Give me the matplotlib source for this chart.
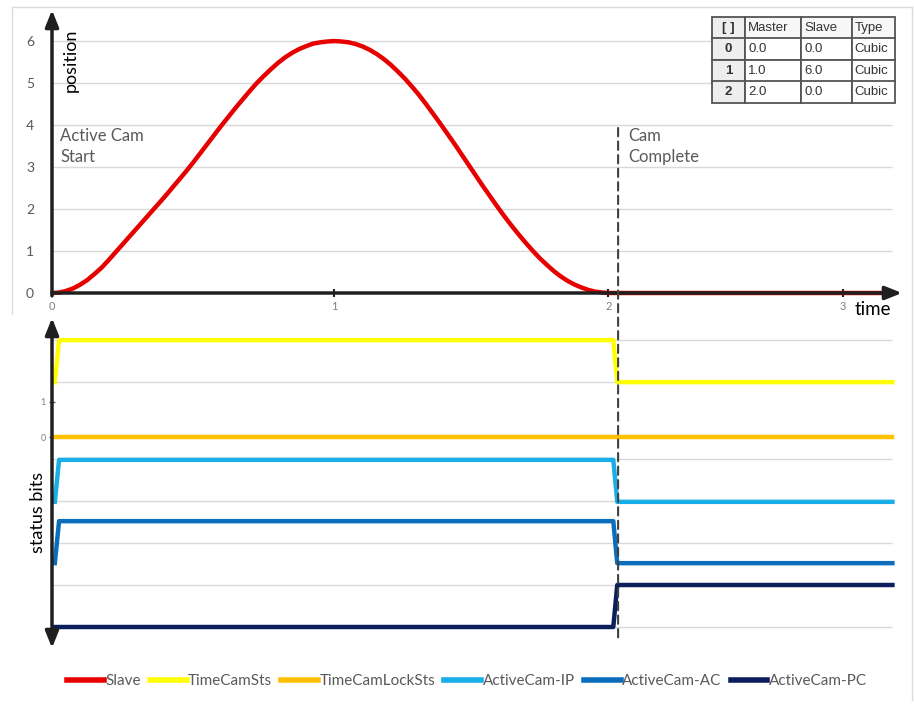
import matplotlib
matplotlib.use("Agg")
import matplotlib.pyplot as plt
from matplotlib.lines import Line2D
from matplotlib.patches import ConnectionPatch

plt.rcParams['font.family'] = ['Lato', 'DejaVu Sans']

# Cam profile: master time -> slave position
time = [0.000, 0.025, 0.050, 0.075, 0.100, 0.125, 0.150, 0.175, 0.200, 0.225,
        0.250, 0.275, 0.300, 0.325, 0.350, 0.375, 0.400, 0.425, 0.450, 0.475,
        0.500, 0.525, 0.550, 0.575, 0.600, 0.625, 0.650, 0.675, 0.700, 0.725,
        0.750, 0.775, 0.800, 0.825, 0.850, 0.875, 0.900, 0.925, 0.950, 0.975,
        1.000, 1.025, 1.050, 1.075, 1.100, 1.125, 1.150, 1.175, 1.200, 1.225,
        1.250, 1.275, 1.300, 1.325, 1.350, 1.375, 1.400, 1.425, 1.450, 1.475,
        1.500, 1.525, 1.550, 1.575, 1.600, 1.625, 1.650, 1.675, 1.700, 1.725,
        1.750, 1.775, 1.800, 1.825, 1.850, 1.875, 1.900, 1.925, 1.950, 1.975,
        2.000, 2.975]
slave = [0.00, 0.01, 0.05, 0.11, 0.20, 0.31, 0.45, 0.60, 0.78, 0.97,
         1.16, 1.35, 1.54, 1.73, 1.92, 2.11, 2.30, 2.50, 2.70, 2.90,
         3.11, 3.33, 3.55, 3.77, 3.99, 4.20, 4.41, 4.61, 4.81, 5.00,
         5.17, 5.33, 5.48, 5.61, 5.72, 5.81, 5.88, 5.94, 5.97, 5.99,
         6.00, 5.99, 5.97, 5.93, 5.87, 5.79, 5.69, 5.57, 5.43, 5.27,
         5.10, 4.91, 4.71, 4.49, 4.26, 4.03, 3.79, 3.55, 3.30, 3.05,
         2.80, 2.55, 2.31, 2.07, 1.84, 1.62, 1.41, 1.21, 1.02, 0.84,
         0.68, 0.53, 0.40, 0.29, 0.20, 0.13, 0.07, 0.03, 0.01, 0.00,
         0.00, 0.00]

# Status bits at the switching instants
bit_time = [0.01, 0.025, 1.987, 2.001, 2.975]
time_cam_sts = [0, 1, 1, 0, 0]
time_cam_lock_sts = [0, 0, 0, 0, 0]
active_cam_ip = [0, 1, 1, 0, 0]
active_cam_ac = [0, 1, 1, 0, 0]
active_cam_pc = [0, 0, 0, 1, 1]

# Cam table
table_cols = ['[ ]', 'Master', 'Slave', 'Type']
table_index = ['0', '1', '2']
table_master = ['0.0', '1.0', '2.0']
table_slave = ['0.0', '6.0', '0.0']
table_type = ['Cubic', 'Cubic', 'Cubic']

pos_ticks = [0, 1, 2, 3, 4, 5, 6]
time_tick_pos = [0, 1, 1.97, 2.8]
time_tick_labels = ['0', '1', '2', '3']
cam_complete = 2.004

# where each status trace sits in the lower panel
trace_offsets = [5.83, 4.52, 2.98, 1.52, 0.0]
bit_grid = [0, 1, 2, 3, 4, 5.83, 6.83]
bit_tick_pos = [4.52, 5.36]
bit_tick_labels = ['0', '1']

W, H = 914, 705
fig = plt.figure(figsize=(W / 100, H / 100), dpi=100)

ax_top = fig.add_axes([52 / W, 1 - 293 / H, 850 / W, 283 / H])
ax_bot = fig.add_axes([52 / W, 1 - 648 / H, 850 / W, 330 / H])

axis_col = '#1f1f1f'
grid_col = '#d9d9d9'
text_col = '#595959'

# ---- top panel: position ----
ax_top.set_xlim(0, 3.009)
ax_top.set_ylim(0, 6.74)
for s in ax_top.spines.values():
    s.set_visible(False)
ax_top.hlines(pos_ticks[1:], 0, time[-1], color=grid_col, lw=1, zorder=0)
ax_top.plot(time, slave, color='#e60000', lw=3.2, label='Slave',
            clip_on=False, zorder=2, solid_capstyle='butt')

arrow_kw = dict(color=axis_col, lw=2.5, shrinkA=0, shrinkB=0)
ax_top.annotate('', xy=(0, 1), xytext=(0, -0.01), xycoords='axes fraction',
                arrowprops=dict(arrowstyle='-|>,head_length=1.0,head_width=0.4', **arrow_kw),
                zorder=3)
ax_top.annotate('', xy=(1, 0), xytext=(0, 0), xycoords='axes fraction',
                arrowprops=dict(arrowstyle='-|>,head_length=1.0,head_width=0.4', **arrow_kw),
                zorder=3)

ax_top.set_yticks(pos_ticks)
ax_top.tick_params(axis='y', length=0, pad=13, labelsize=10, labelcolor=text_col)
ax_top.set_xticks(time_tick_pos)
ax_top.set_xticklabels(time_tick_labels)
ax_top.tick_params(axis='x', direction='inout', length=6, width=1.5, color=axis_col,
                   pad=3, labelsize=8, labelcolor='#7f7f7f')

ax_top.text(0.03, 3.92, 'Active Cam\nStart', fontsize=12, color=text_col,
            va='top', ha='left', linespacing=1.35)
ax_top.text(2.04, 3.92, 'Cam\nComplete', fontsize=12, color=text_col,
            va='top', ha='left', linespacing=1.35)

fig.text(71 / W, 1 - 60 / H, 'position', rotation=90, fontsize=13,
         color='black', ha='center', va='center')
fig.text(873 / W, 1 - 309 / H, 'time', fontsize=13.5, color='black',
         ha='center', va='center')

# ---- bottom panel: status bits ----
ax_bot.set_xlim(0, 3.009)
ax_bot.set_ylim(-0.5, 7.357)
for s in ax_bot.spines.values():
    s.set_visible(False)
ax_bot.hlines(bit_grid, 0, bit_time[-1], color=grid_col, lw=1, zorder=0)

signals = [
    ('TimeCamSts', time_cam_sts, '#ffff00'),
    ('TimeCamLockSts', time_cam_lock_sts, '#ffc000'),
    ('ActiveCam-IP', active_cam_ip, '#1aaee8'),
    ('ActiveCam-AC', active_cam_ac, '#0b6ebd'),
    ('ActiveCam-PC', active_cam_pc, '#0a1f5c'),
]
for (name, bits, col), off in zip(signals, trace_offsets):
    ax_bot.plot(bit_time, [off + b for b in bits], color=col, lw=3.2,
                label=name, zorder=2)

ax_bot.annotate('', xy=(0, 1), xytext=(0, 0), xycoords='axes fraction',
                arrowprops=dict(arrowstyle='<|-|>,head_length=1.0,head_width=0.4', **arrow_kw),
                zorder=3)
ax_bot.set_xticks([])
ax_bot.set_yticks(bit_tick_pos)
ax_bot.set_yticklabels(bit_tick_labels)
ax_bot.tick_params(axis='y', direction='inout', length=5, width=1, color='#555555',
                   pad=2, labelsize=6.5, labelcolor='#7f7f7f')

fig.text(38 / W, 1 - 512 / H, 'status bits', rotation=90, fontsize=13,
         color='black', ha='center', va='center')

# dashed "cam complete" marker across both panels
con = ConnectionPatch(xyA=(cam_complete, 3.93), coordsA='data', axesA=ax_top,
                      xyB=(cam_complete, -0.31), coordsB='data', axesB=ax_bot,
                      color='#404040', lw=1.5, ls=(0, (4, 2.5)), zorder=5)
fig.add_artist(con)

# legend
handles = ax_top.get_lines() + ax_bot.get_lines()
handles = [h for h in handles if not h.get_label().startswith('_')]
leg_handles = [Line2D([], [], color=h.get_color(), lw=4) for h in handles]
fig.legend(leg_handles, [h.get_label() for h in handles], loc='center',
           bbox_to_anchor=(467 / W, 1 - 681 / H), ncol=6, frameon=False,
           handlelength=2.4, handletextpad=0.1, columnspacing=0.6,
           fontsize=11, labelcolor=text_col)

# ---- cam table ----
tab_ax = fig.add_axes([712 / W, 1 - 103 / H, 183 / W, 86 / H])
tab_ax.axis('off')
rows = [list(r) for r in zip(table_index, table_master, table_slave, table_type)]
col_w = [33, 56, 51, 43]
tbl = tab_ax.table(cellText=rows, colLabels=table_cols,
                   colWidths=[w / sum(col_w) for w in col_w],
                   bbox=[0, 0, 1, 1], cellLoc='left', colLoc='left')
tbl.auto_set_font_size(False)
for (r, c), cell in tbl.get_celld().items():
    cell.set_edgecolor('#555555')
    cell.set_linewidth(1.3)
    cell.PAD = 0.06
    txt = cell.get_text()
    txt.set_fontsize(9.5)
    txt.set_fontfamily('Liberation Sans')
    txt.set_color('#333333')
    if c == 0:
        cell.set_facecolor('#eeeeee')
        txt.set_ha('center')
        txt.set_fontweight('bold')
    elif r == 0:
        cell.set_facecolor('#f7f7f7')

# light frame around the picture
frame_kw = dict(color='#dcdcdc', lw=1, transform=fig.transFigure)
fig.add_artist(Line2D([12 / W, 12 / W], [1 - 7 / H, 1 - 314 / H], **frame_kw))
fig.add_artist(Line2D([12 / W, 912 / W], [1 - 7 / H, 1 - 7 / H], **frame_kw))
fig.add_artist(Line2D([912 / W, 912 / W], [1 - 7 / H, 1 - 700 / H], **frame_kw))

fig.savefig('out.png', dpi=100, facecolor='white')
